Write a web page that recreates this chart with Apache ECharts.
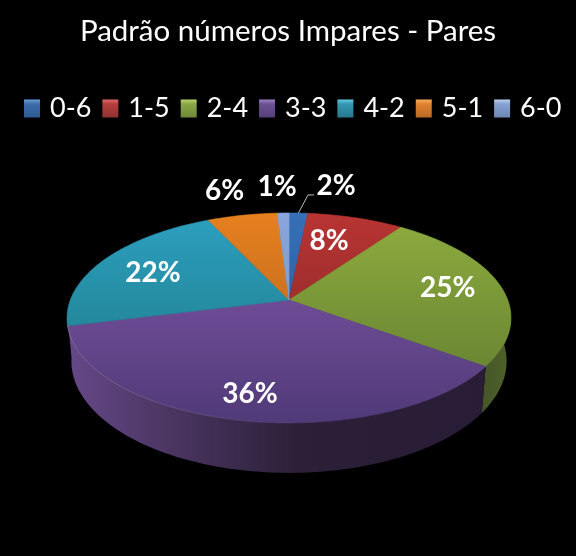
<!DOCTYPE html>
<html>
<head>
<meta charset="utf-8">
<style>html,body{margin:0;padding:0;background:#000}#c{width:576px;height:556px}</style>
<script src="https://cdn.jsdelivr.net/npm/echarts@6/dist/echarts.min.js"></script>
</head>
<body>
<div id="c"></div>
<script>
const chartTitle = 'Padrão números Impares - Pares';
const categories = ['0-6', '1-5', '2-4', '3-3', '4-2', '5-1', '6-0'];
const values = [1.6, 8.3, 25.1, 36.1, 21.9, 6.0, 1.0];
const percentLabels = ['2%', '8%', '25%', '36%', '22%', '6%', '1%'];

// styles
const topStart = ['#3670b8', '#b83432', '#8fad3f', '#6e4c96', '#2ca0c0', '#e6801f', '#8aa6da'];
const topEnd   = ['#295a98', '#8a2a2a', '#6b8733', '#503a78', '#21808f', '#b9671f', '#7a94c4'];
const wallStops = [
  null, null,
  [[0, '#45572a'], [1, '#4e6128']],
  [[0, '#654889'], [0.25, '#4a3561'], [0.55, '#2b2038'], [1, '#291c36']],
  null, null, null
];
const legendTop = ['#6f9fdc', '#e06a68', '#bcd66e', '#a284c8', '#63cde6', '#f8ad5e', '#bfd2f0'];
const legendMid = ['#3a6cab', '#b3403e', '#8aa747', '#6c5093', '#3497b0', '#e0822f', '#86a2d0'];
const legendEnd = ['#2f5a92', '#8f3231', '#6e8838', '#54407a', '#27788e', '#b86924', '#6e88b4'];
const labelRadius = [1.41, 0.67, 0.75, 0.81, 0.71, 1.36, 1.37];
const labelTurn = [8, -3, 0, 0, -2, -1, -1];
const wallOverlap = [0, 0, 0, 6, 0, 0, 0];

// perspective disc model
const k = 0.171;
const topFace = {x: 289, y: 300, a: 218.7, b: 101.9};
const baseFace = {x: 289, y: 342, a: 214.4, b: 108.5};
const project = (f, deg, r) => {
  const t = deg * Math.PI / 180, u = r * Math.sin(t), v = r * Math.cos(t), d = 1 + k * v;
  return [f.x + f.a * u / d, f.y - f.b * v / d];
};
const arc = (f, a0, a1) => {
  const n = Math.max(2, Math.ceil(Math.abs(a1 - a0) / 1.5)), out = [];
  for (let i = 0; i <= n; i++) out.push(project(f, a0 + (a1 - a0) * i / n, 1));
  return out;
};
const total = values.reduce((s, v) => s + v, 0);
const bounds = [0];
values.forEach((v, i) => bounds.push(bounds[i] + v / total * 360));
const grad = (stops, x, y, x2, y2) => new echarts.graphic.LinearGradient(
  x, y, x2, y2, stops.map(s => ({offset: s[0], color: s[1]})), true);

function sliceRender(i) {
  return function () {
    const a0 = bounds[i], a1 = bounds[i + 1], mid = (a0 + a1) / 2, kids = [];
    const w0 = Math.max(a0, 60), w1 = Math.min(a1 + wallOverlap[i], 300);
    if (w1 > w0 && wallStops[i]) {
      const xs = [project(topFace, w0, 1)[0], project(topFace, w1, 1)[0]];
      const fill = grad(wallStops[i], Math.min(xs[0], xs[1]), 0, Math.max(xs[0], xs[1]), 0);
      const pts = arc(topFace, w0, w1).concat(arc(baseFace, w1, w0));
      kids.push({type: 'polygon', z2: 1, shape: {points: pts},
        style: {fill: i === 2 ? grad(wallStops[i], 483, 0, 511, 0) : fill, stroke: 'none'}});
      kids.push({type: 'polyline', z2: 15, shape: {points: arc(topFace, w0, a1)},
        style: {fill: 'none', lineWidth: 1,
          stroke: grad([[0, 'rgba(255,255,255,0.22)'], [1, 'rgba(255,255,255,0)']], 70, 0, 330, 0)}});
    }
    const face = [[topFace.x, topFace.y]].concat(arc(topFace, a0, a1));
    const fillTop = grad([[0, topStart[i]], [1, topEnd[i]]], 0, i === 3 ? 300 : 213, 0, i === 3 ? 423 : 366);
    kids.push({type: 'polygon', z2: 10, shape: {points: face},
      style: {fill: fillTop, stroke: fillTop, lineWidth: 0.6}});
    const pos = project(topFace, mid + labelTurn[i], labelRadius[i]);
    kids.push({type: 'text', z2: 30, x: pos[0], y: pos[1],
      style: {text: percentLabels[i], fill: '#fff', align: 'center', verticalAlign: 'middle',
        font: 'bold 28px Lato, sans-serif'}});
    if (labelRadius[i] > 1 && labelTurn[i] > 4) {
      const e = project(topFace, mid, 1);
      kids.push({type: 'polyline', z2: 20,
        shape: {points: [e, [pos[0] - 28, pos[1] + 9], [pos[0] - 22, pos[1] + 9]]},
        style: {fill: 'none', stroke: '#bbb', lineWidth: 1}});
    }
    return {type: 'group', children: kids};
  };
}

const chart = echarts.init(document.getElementById('c'), null, {renderer: 'canvas'});
chart.setOption({
  animation: false,
  backgroundColor: '#000',
  title: {text: chartTitle, left: 'center', top: 11,
    textStyle: {color: '#fff', fontFamily: 'Lato', fontWeight: 'normal', fontSize: 29.5}},
  legend: {
    left: 19, top: 90, width: 556, itemWidth: 16, itemHeight: 18, itemGap: 11, selectedMode: false,
    textStyle: {color: '#fff', fontFamily: 'Lato', fontSize: 27, padding: [0, 0, 0, 5]},
    data: categories.map((name, i) => ({
      name, icon: 'rect',
      itemStyle: {color: new echarts.graphic.LinearGradient(0, 0, 0, 1, [
        {offset: 0, color: legendTop[i]}, {offset: 0.25, color: legendMid[i]}, {offset: 1, color: legendEnd[i]}
      ])}
    }))
  },
  series: categories.map((name, i) => ({
    type: 'custom', name, coordinateSystem: 'none', silent: true,
    itemStyle: {color: legendMid[i]},
    data: [values[i]],
    renderItem: sliceRender(i)
  }))
});
</script>
</body>
</html>
